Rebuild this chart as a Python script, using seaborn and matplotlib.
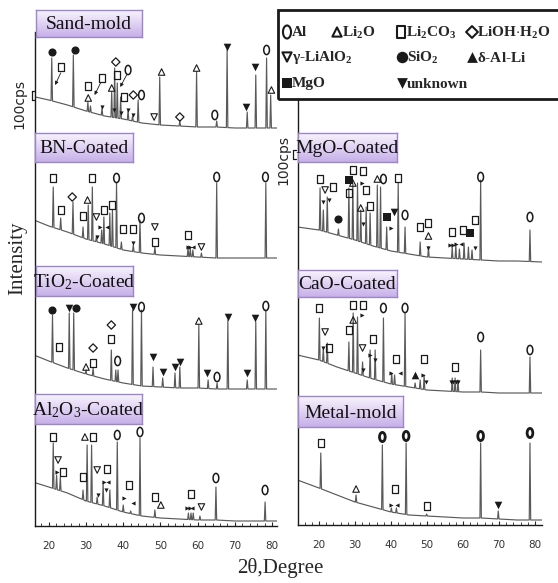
import numpy as np
import pandas as pd
import seaborn as sns
import matplotlib.pyplot as plt
from matplotlib.path import Path
from matplotlib.lines import Line2D
from matplotlib.patches import Rectangle
from matplotlib.colors import LinearSegmentedColormap
from matplotlib.ticker import MultipleLocator

W, H = 558, 583  # output size in px at dpi 100

BASE_TT = [14, 20, 25, 30, 35, 40, 45, 50, 55, 60, 65, 70, 75, 82]

# ---------------- Sand-mold
SAND_BASE = [35, 30, 25, 19, 14, 11, 7, 5, 4, 3, 3, 2, 2, 2]
SAND_PEAK_TT = [20.8, 26.6, 30.5, 31.2, 34.3, 36.9, 37.7, 38.4, 39.3, 41.3, 42.5,
                44.0, 49.8, 55.2, 59.7, 65.1, 67.9, 73.3, 75.6, 78.5, 79.6]
SAND_PEAK_I = [72, 75, 28, 24, 22, 38, 62, 47, 33, 20, 14,
               30, 53, 9, 58, 9, 80, 18, 55, 72, 35]
SAND_MARKS = {
    'sio2': [(20.8, 78), (27.0, 80)],
    'li2co3': [(23.4, 63), (30.6, 44), (34.2, 52), (38.4, 55), (40.2, 33)],
    'li2o': [(30.6, 32), (36.9, 42), (50.3, 58), (59.7, 62), (79.8, 40)],
    'lioh': [(38.0, 68), (42.7, 35), (55.2, 13)],
    'al': [(41.3, 60), (44.9, 35), (64.6, 15), (78.5, 80)],
    'lialo2': [(48.3, 13)],
    'unk': [(68.0, 83), (73.1, 23), (75.4, 63)],
    'to_d': [(34.2, 23), (37.6, 20), (39.5, 17), (41.3, 20), (42.7, 15)],
}
SAND_ARROWS = [((23.2, 57), (21.7, 45)), ((33.9, 47), (32.3, 35)), ((40.9, 55), (39.2, 43))]

# ---------------- BN-Coated
BN_BASE = [45, 36, 30, 23, 18, 12, 9, 7, 6, 5, 4, 4, 4, 4]
BN_PEAK_TT = [21.2, 23.2, 26.5, 29.2, 30.6, 31.7, 32.8, 34.2, 34.8, 36.4, 37.1,
              38.2, 39.5, 42.7, 44.5, 48.5, 57.4, 58.0, 58.7, 61.0, 65.1, 78.3]
BN_PEAK_I = [75, 44, 60, 35, 57, 75, 26, 32, 45, 49, 52,
             79, 20, 17, 42, 15, 14, 14, 12, 9, 79, 79]
BN_MARKS = {
    'li2co3': [(21.2, 84), (23.2, 52), (29.2, 46), (31.7, 84), (34.8, 52), (37.0, 57),
               (40.0, 33), (42.7, 33), (48.5, 20), (57.5, 27)],
    'lioh': [(26.3, 65)],
    'li2o': [(30.4, 62)],
    'al': [(38.2, 84), (44.9, 44), (65.1, 85), (78.2, 85)],
    'lialo2': [(32.8, 45), (48.5, 35), (61.0, 15)],
    'to_d': [(33.0, 25), (42.7, 19)],
    'to_r': [(33.8, 35), (57.3, 15), (58.0, 15)],
    'to_l': [(35.6, 35), (58.8, 15)],
}

# ---------------- TiO2-Coated
TIO2_BASE = [40, 31, 24, 18, 13, 9, 6, 5, 4, 4, 3, 3, 3, 3]
TIO2_PEAK_TT = [21.0, 25.5, 26.7, 30.0, 31.9, 36.8, 38.0, 38.6, 42.5, 44.9, 48.0,
                50.6, 53.9, 55.2, 60.3, 62.8, 65.2, 68.1, 73.3, 75.6, 78.3]
TIO2_PEAK_I = [77, 79, 79, 22, 24, 42, 22, 22, 82, 82, 25,
               14, 19, 25, 67, 12, 9, 72, 12, 70, 82]
TIO2_MARKS = {
    'sio2': [(21.0, 82), (27.3, 84)],
    'unk': [(25.5, 84), (42.5, 85), (48.0, 35), (50.6, 20), (53.9, 25), (55.2, 30),
            (62.6, 19), (68.1, 75), (73.3, 19), (75.5, 74)],
    'li2co3': [(22.7, 45), (31.9, 29), (36.8, 53)],
    'lioh': [(31.9, 44), (36.8, 67)],
    'li2o': [(30.0, 25), (60.3, 71)],
    'al': [(38.5, 31), (44.9, 85), (65.2, 15), (78.3, 86)],
}

# ---------------- Al2O3-Coated
AL2O3_BASE = [46, 39, 33, 25, 20, 14, 10, 8, 7, 6, 6, 5, 5, 5]
AL2O3_PEAK_TT = [21.2, 22.1, 23.1, 29.2, 30.3, 31.5, 33.0, 34.6, 36.4, 38.4,
                 40.0, 42.0, 44.5, 48.5, 57.5, 58.2, 58.8, 60.6, 64.9, 78.1]
AL2O3_PEAK_I = [83, 51, 49, 36, 81, 81, 29, 43, 36, 84,
                21, 15, 88, 16, 13, 13, 13, 10, 39, 24]
AL2O3_MARKS = {
    'li2co3': [(21.2, 89), (23.7, 54), (29.2, 49), (31.9, 89), (35.7, 57), (41.6, 41),
               (48.5, 29), (58.1, 32)],
    'li2o': [(29.7, 89), (50.1, 21)],
    'lialo2': [(22.5, 66), (33.0, 56), (61.0, 19)],
    'al': [(38.4, 91), (44.5, 94), (64.9, 48), (78.1, 36)],
    'to_r': [(22.2, 54), (34.8, 44), (40.2, 28), (57.2, 18), (57.8, 18)],
    'to_l': [(36.0, 44), (42.7, 23), (58.6, 18)],
    'to_d': [(33.2, 31), (35.4, 36)],
}

# ---------------- MgO-Coated
MGO_BASE = [38, 35, 30, 25, 19, 14, 11, 8, 7, 6, 5, 4, 4, 3]
MGO_PEAK_TT = [20.3, 21.2, 22.3, 25.4, 28.3, 29.4, 30.7, 31.6, 33.1, 34.2, 36.2, 37.1,
               38.8, 42.0, 43.9, 48.1, 50.4, 57.0, 58.0, 59.0, 60.3, 61.5, 62.5, 64.9, 78.6]
MGO_PEAK_I = [77, 55, 68, 36, 77, 82, 82, 55, 58, 52, 80, 78,
              38, 82, 38, 23, 18, 18, 20, 16, 22, 18, 15, 85, 35]
MGO_MARKS = {
    'li2co3': [(20.3, 86), (24.0, 78), (28.3, 72), (29.4, 95), (32.1, 94), (33.1, 75),
               (34.2, 59), (42.0, 87), (48.1, 38), (50.4, 42), (56.9, 33), (60.1, 35),
               (63.3, 45)],
    'lialo2': [(21.7, 75)],
    'sio2': [(25.4, 46)],
    'mgo': [(28.3, 85), (38.8, 48), (61.9, 32)],
    'li2o': [(29.4, 82), (31.6, 57), (36.2, 86), (50.4, 29)],
    'al': [(37.9, 86), (43.9, 50), (64.9, 88), (78.6, 48)],
    'unk': [(40.8, 53)],
    'to_d': [(21.2, 63), (22.9, 65), (32.3, 41), (50.4, 17), (63.3, 17)],
    'to_r': [(31.9, 82), (39.9, 37), (56.5, 20), (57.3, 20), (58.1, 21)],
    'to_l': [(59.4, 21)],
}

# ---------------- CaO-Coated
CAO_BASE = [40, 35, 28, 22, 16, 11, 8, 5, 4, 3, 3, 2, 2, 2]
CAO_PEAK_TT = [20.1, 21.2, 22.3, 28.3, 29.5, 30.7, 32.1, 34.2, 35.6, 37.9, 40.2,
               41.0, 43.9, 46.7, 48.1, 49.2, 57.0, 57.8, 58.6, 64.9, 78.6]
CAO_PEAK_I = [77, 47, 52, 53, 82, 78, 33, 45, 45, 77, 22,
              20, 82, 12, 15, 20, 17, 17, 15, 45, 38]
CAO_MARKS = {
    'li2co3': [(20.1, 87), (22.9, 47), (28.3, 65), (29.5, 90), (32.1, 90), (35.1, 56),
               (41.4, 36), (49.2, 36), (57.8, 28)],
    'lialo2': [(21.7, 63), (32.1, 47)],
    'li2o': [(29.5, 75)],
    'al': [(37.9, 87), (43.9, 87), (64.9, 58), (78.6, 45)],
    'alli': [(46.7, 20)],
    'to_d': [(21.2, 47), (32.3, 25), (35.5, 35), (49.7, 13), (56.6, 13), (57.3, 13),
             (58.0, 13), (58.7, 13)],
    'to_r': [(31.9, 80), (34.2, 40), (39.9, 22), (49.0, 20)],
    'to_l': [(42.5, 22)],
}

# ---------------- Metal-mold
METAL_BASE = [45, 37, 30, 23, 18, 13, 10, 9, 8, 7, 7, 6, 5, 5]
METAL_PEAK_TT = [20.5, 30.3, 37.6, 40.1, 41.5, 44.2, 49.9, 64.9, 69.8, 78.6]
METAL_PEAK_I = [72, 30, 80, 17, 17, 82, 11, 82, 14, 82]
METAL_MARKS = {
    'li2co3': [(20.5, 82), (41.0, 36), (49.9, 19)],
    'li2o': [(30.3, 36)],
    'al': [(37.6, 88), (44.2, 89), (64.9, 89), (78.6, 92)],
    'unk': [(69.8, 20)],
    'to_r': [(39.9, 20)],
    'to_l': [(41.8, 20)],
}

# legend entries: (marker key, label, row, x of symbol in px)
LEGEND_ITEMS = [
    ('al', 'Al', 0, 287), ('li2o', r'Li$_\mathbf{2}$O', 0, 337),
    ('li2co3', r'Li$_\mathbf{2}$CO$_\mathbf{3}$', 0, 401), ('lioh', r'LiOH$\cdot$H$_\mathbf{2}$O', 0, 472),
    ('lialo2', r'$\mathbf{\gamma}$-LiAlO$_\mathbf{2}$', 1, 287), ('sio2', r'SiO$_\mathbf{2}$', 1, 402),
    ('alli', r'$\mathbf{\delta}$-Al-Li', 1, 472),
    ('mgo', 'MgO', 2, 287), ('unk', 'unknown', 2, 402),
]

# ---------------- style
sns.set_theme(style='white')
plt.rcParams['font.family'] = ['Liberation Serif', 'DejaVu Serif']
plt.rcParams['mathtext.fontset'] = 'custom'
plt.rcParams['mathtext.rm'] = 'Liberation Serif'
plt.rcParams['mathtext.bf'] = 'Liberation Serif:bold'
plt.rcParams['mathtext.it'] = 'Liberation Serif:italic'

_c = Path.unit_circle()
AL_PATH = Path(_c.vertices * [0.62, 1.0], _c.codes)
SQ_PATH = Path([(-0.38, -0.5), (0.38, -0.5), (0.38, 0.5), (-0.38, 0.5), (-0.38, -0.5)],
               [Path.MOVETO, Path.LINETO, Path.LINETO, Path.LINETO, Path.CLOSEPOLY])

MARK_STYLE = {
    'al': dict(marker=AL_PATH, s=44, facecolors='none', edgecolors='k', linewidths=1.1),
    'li2o': dict(marker='^', s=22, facecolors='none', edgecolors='k', linewidths=0.8),
    'li2co3': dict(marker=SQ_PATH, s=32, facecolors='none', edgecolors='k', linewidths=0.9),
    'lioh': dict(marker='D', s=18, facecolors='none', edgecolors='k', linewidths=0.9),
    'lialo2': dict(marker='v', s=22, facecolors='none', edgecolors='k', linewidths=0.8),
    'sio2': dict(marker='o', s=34, facecolors='k', edgecolors='k', linewidths=0),
    'alli': dict(marker='^', s=30, facecolors='k', edgecolors='k', linewidths=0),
    'mgo': dict(marker='s', s=28, facecolors='k', edgecolors='k', linewidths=0),
    'unk': dict(marker='v', s=30, facecolors='k', edgecolors='k', linewidths=0),
    'to_r': dict(marker='>', s=9, facecolors='k', edgecolors='k', linewidths=0),
    'to_l': dict(marker='<', s=9, facecolors='k', edgecolors='k', linewidths=0),
    'to_d': dict(marker='v', s=9, facecolors='k', edgecolors='k', linewidths=0),
}

# panels: label, column, vertical offset (px units), data, label box in px (x0, y0, x1, y1)
PANELS = [
    ('Sand-mold', 0, 396, SAND_BASE, SAND_PEAK_TT, SAND_PEAK_I, SAND_MARKS, (36, 10, 142, 37)),
    ('BN-Coated', 0, 264, BN_BASE, BN_PEAK_TT, BN_PEAK_I, BN_MARKS, (35, 133, 133, 162)),
    ('TiO$_\\mathrm{2}$-Coated', 0, 134, TIO2_BASE, TIO2_PEAK_TT, TIO2_PEAK_I, TIO2_MARKS, (36, 266, 133, 296)),
    ('Al$_\\mathrm{2}$O$_\\mathrm{3}$-Coated', 0, 0, AL2O3_BASE, AL2O3_PEAK_TT, AL2O3_PEAK_I, AL2O3_MARKS,
     (35, 394, 142, 424)),
    ('MgO-Coated', 1, 260, MGO_BASE, MGO_PEAK_TT, MGO_PEAK_I, MGO_MARKS, (298, 133, 397, 162)),
    ('CaO-Coated', 1, 130, CAO_BASE, CAO_PEAK_TT, CAO_PEAK_I, CAO_MARKS, (298, 270, 397, 297)),
    ('Metal-mold', 1, 0, METAL_BASE, METAL_PEAK_TT, METAL_PEAK_I, METAL_MARKS, (298, 396, 403, 427)),
]


def trace(base, pos, top, hw=0.2):
    keep = [i for i, t in enumerate(BASE_TT) if all(abs(t - p) > hw for p in pos)]
    xs = [BASE_TT[i] for i in keep]
    ys = [base[i] for i in keep]
    for p, h in zip(pos, top):
        for dx in (-hw, hw):
            xs.append(p + dx)
            ys.append(np.interp(p + dx, BASE_TT, base))
        xs.append(p)
        ys.append(h)
    order = np.argsort(xs, kind='stable')
    return np.asarray(xs)[order], np.asarray(ys)[order]


fig = plt.figure(figsize=(W / 100, H / 100), dpi=100)
ax_l = fig.add_axes([35 / W, 1 - 526 / H, 242 / W, 494 / H])
ax_r = fig.add_axes([298 / W, 1 - 525 / H, 244 / W, 425 / H])
axes = [ax_l, ax_r]
ax_l.set_xlim(16.3, 81.3)
ax_l.set_ylim(0, 494)
ax_r.set_xlim(14.17, 81.94)
ax_r.set_ylim(0, 425)

rows = []
for name, col, off, base, pos, top, marks, box in PANELS:
    x, y = trace(base, pos, top)
    rows.append(pd.DataFrame({'two_theta': x, 'counts': y + off, 'panel': name, 'col': col}))
df = pd.concat(rows, ignore_index=True)

for col, ax in enumerate(axes):
    sns.lineplot(data=df[df['col'] == col], x='two_theta', y='counts', units='panel',
                 estimator=None, sort=False, color='#5a5a5a', lw=0.85, ax=ax)

for name, col, off, base, pos, top, marks, box in PANELS:
    ax = axes[col]
    for key, pts in marks.items():
        st = dict(MARK_STYLE[key])
        if name == 'Metal-mold' and key == 'al':
            st['linewidths'] = 2.0
        ax.scatter([p[0] for p in pts], [p[1] + off for p in pts], zorder=4, **st)
    if name == 'Sand-mold':
        for (x0, y0), (x1, y1) in SAND_ARROWS:
            ax.annotate('', xy=(x1, y1 + off), xytext=(x0, y0 + off),
                        arrowprops=dict(arrowstyle='-|>', lw=0.6, color='k', mutation_scale=5,
                                        shrinkA=0, shrinkB=0))

for ax in axes:
    for s in ['top', 'right']:
        ax.spines[s].set_visible(False)
    for s in ['left', 'bottom']:
        ax.spines[s].set_color('k')
        ax.spines[s].set_linewidth(1.0)
    ax.set_xticks([20, 30, 40, 50, 60, 70, 80])
    ax.xaxis.set_minor_locator(MultipleLocator(2))
    ax.tick_params(axis='x', which='major', direction='in', length=3, width=0.8, pad=11,
                   labelsize=7.5, labelcolor='#333333', bottom=True)
    ax.tick_params(axis='x', which='minor', direction='in', length=2, width=0.6, bottom=True)
    for t in ax.get_xticklabels():
        t.set_family('DejaVu Sans')
    ax.set_yticks([])
    ax.set_xlabel('')
    ax.set_ylabel('')

# label boxes with a lavender gradient
box_cmap = LinearSegmentedColormap.from_list('lav', ['#f8f4fc', '#c7b0e8'])
grad = np.linspace(0, 1, 64).reshape(-1, 1)
for name, col, off, base, pos, top, marks, (x0, y0, x1, y1) in PANELS:
    bax = fig.add_axes([x0 / W, 1 - y1 / H, (x1 - x0) / W, (y1 - y0) / H])
    bax.imshow(grad, aspect='auto', cmap=box_cmap, extent=(0, 1, 0, 1))
    bax.set_xticks([])
    bax.set_yticks([])
    for s in bax.spines.values():
        s.set_color('#9c85c9')
        s.set_linewidth(1.0)
    bax.text(0.5, 0.45, name, ha='center', va='center', fontsize=14,
             transform=bax.transAxes, color='#111111')

# axis titles
fig.text(280 / W, 1 - 568 / H, '2θ,Degree', ha='center', va='center', fontsize=15)
fig.text(18 / W, 1 - 258 / H, 'Intensity', ha='center', va='center', fontsize=15, rotation=90)
for cx, cy, bx, by in [(19, 104, 32, 91), (283, 160, 293, 150)]:
    fig.text(cx / W, 1 - cy / H, '100cps', ha='center', va='center', fontsize=10,
             rotation=90, family='DejaVu Sans')
    fig.add_artist(Line2D([bx / W, bx / W], [1 - by / H, 1 - (by + 9) / H], color='k', lw=0.9))
    for yy in (by, by + 9):
        fig.add_artist(Line2D([bx / W, (bx + 3) / W], [1 - yy / H, 1 - yy / H], color='k', lw=0.9))

# legend box
lax = fig.add_axes([277 / W, 1 - 100 / H, (W - 277) / W, 91 / H])
lax.set_xlim(277, W)
lax.set_ylim(100, 9)
lax.axis('off')
fig.add_artist(Rectangle((278 / W, 1 - 99 / H), (W + 10 - 278) / W, 89 / H, fill=False,
                         edgecolor='k', lw=2.0, transform=fig.transFigure))
ROW_Y = [32, 57, 83]
for key, lab, row, xs in LEGEND_ITEMS:
    st = dict(MARK_STYLE[key])
    st['s'] = st['s'] * 2.0
    if st.get('facecolors') == 'none':
        st['linewidths'] = 1.5
    lax.scatter([xs], [ROW_Y[row]], clip_on=False, **st)
    lax.text(xs + 5, ROW_Y[row] + 1, lab, ha='left', va='center', fontsize=11, fontweight='bold')

fig.savefig('out.png', dpi=100)
